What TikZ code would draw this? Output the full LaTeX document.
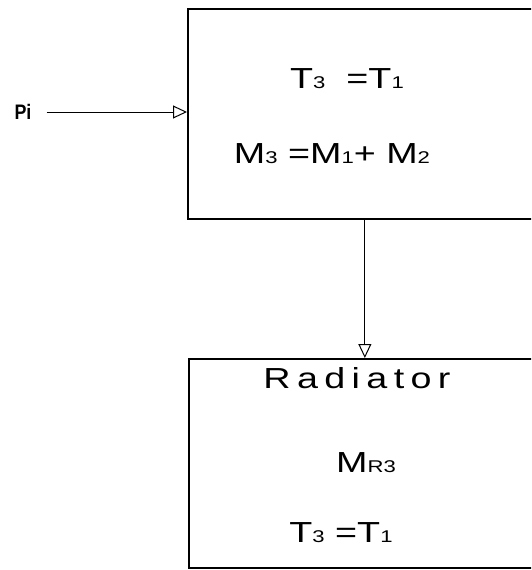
\documentclass[tikz,border=0pt]{standalone}
\usepackage{fontspec}
\setmainfont[FakeStretch=1.3]{Liberation Sans}
\newfontfamily\tagfont[FakeStretch=0.85]{Liberation Sans Bold}
\usetikzlibrary{arrows.meta}

\newcommand{\lo}[1]{{\fontsize{17}{17}\selectfont #1}}

\tikzset{
    block/.style={draw, line width=1.7pt, inner sep=0pt},
    flow/.style={line width=1pt, -{Triangle[open, length=14pt, width=13pt]}},
    eq/.style={font=\fontsize{29}{29}\selectfont, inner sep=0pt, anchor=base},
}

\begin{document}
\begin{tikzpicture}[x=1pt, y=-1pt]
            \useasboundingbox (0,0) rectangle (531,570);
            \clip (0,0) rectangle (531,570);

            % Mischer und Kuehler
            \node[block, minimum width=354pt, minimum height=210pt, anchor=north west] (mix) at (187,8) {};
            \node[block, minimum width=352pt, minimum height=209pt, anchor=north west] (rad) at (188,358) {};

            % Gleichungen oben
            \node[eq] (mixT) at (347,88) {T\lo{3}\ \ =T\lo{1}};
            \node[eq] (mixM) at (332,163) {M\lo{3} =M\lo{1}+ M\lo{2}};

            % Gleichungen unten
            \node[eq] (radname) at (357,388) {\addfontfeatures{LetterSpace=22}Radiator};
            \node[eq] (radM) at (366,472) {M\lo{R3}};
            \node[eq] (radT) at (341,542) {T\lo{3} =T\lo{1}};

            % Eingang und Verbindung
            \node[font=\tagfont\fontsize{21}{21}\selectfont, inner sep=0pt] (pi) at (23,112) {Pi};
            \draw[flow] ([xshift=15pt]pi.east) -- (pi.east -| mix.west);
            \draw[flow] (mix.south) -- (rad.north);
\end{tikzpicture}
\end{document}
